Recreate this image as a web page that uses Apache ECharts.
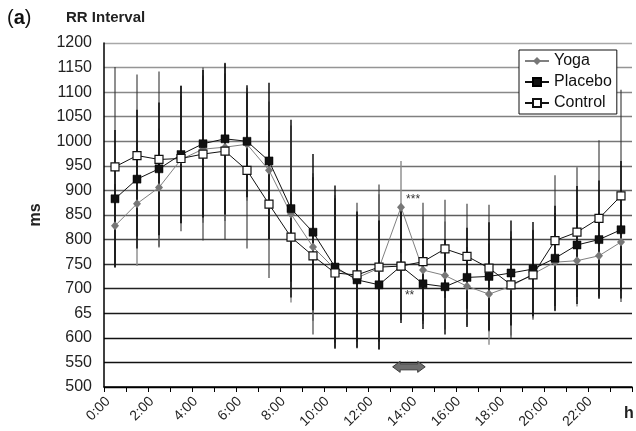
<!DOCTYPE html>
<html><head><meta charset="utf-8">
<script src="https://cdn.jsdelivr.net/npm/echarts@6/dist/echarts.min.js"></script>
<style>html,body{margin:0;padding:0;background:#fff}#c{width:636px;height:431px}</style>
</head><body><div id="c"></div>
<script>
// ---- data ----
const slots = [0.5,1.5,2.5,3.5,4.5,5.5,6.5,7.5,8.5,9.5,10.5,11.5,12.5,13.5,14.5,15.5,16.5,17.5,18.5,19.5,20.5,21.5,22.5,23.5];
const tickHours = [0,2,4,6,8,10,12,14,16,18,20,22];
const yTicks = [500,550,600,650,700,750,800,850,900,950,1000,1050,1100,1150,1200];
const yTickLabels = ['500','550','600','65','700','750','800','850','900','950','1000','1050','1100','1150','1200'];
const yoga    = [828,873,906,963,984,988,994,941,852,785,740,722,742,866,738,727,705,689,705,730,754,757,767,795];
const placebo = [883,923,944,973,995,1005,1000,960,863,815,744,718,708,746,710,704,723,725,732,740,762,789,800,820];
const control = [948,971,963,965,974,980,941,872,805,767,732,728,744,746,755,781,766,742,708,728,798,815,843,889];
const yogaSD    = [85,127,120,130,150,150,115,140,180,150,150,130,150,94,110,110,80,103,100,90,100,93,88,100];
const placeboSD = [140,141,135,140,150,154,114,159,181,159,166,139,131,116,92,97,101,110,107,96,107,120,120,140];
const controlSD = [203,165,179,148,176,180,159,150,91,160,152,147,168,110,120,100,107,129,109,91,133,132,159,216];
const annotations = [[14.05, 882, '***'], [13.89, 685, '**']];
const arrowSpan = [[13.12, 14.6, 541]];

const FONT = '"Liberation Sans", Arial, sans-serif';
const gridColors = ['#000','#111','#111','#1a1a1a','#222','#333','#4a4a4a','#5e5e5e','#666','#707070','#777','#808080','#888','#959595','#a8a8a8'];

function errSeries(name, means, sds, color, width, z) {
  return {
    type: 'custom', name: name + ' SD', xAxisIndex: 0, yAxisIndex: 0, z: z, silent: true,
    data: slots.map((x, i) => [x, means[i] - sds[i], means[i] + sds[i]]),
    encode: { x: 0, y: [1, 2] },
    renderItem(params, api) {
      const lo = api.coord([api.value(0), api.value(1)]);
      const hi = api.coord([api.value(0), api.value(2)]);
      return { type: 'line', shape: { x1: lo[0], y1: lo[1], x2: hi[0], y2: hi[1] },
               style: { stroke: color, lineWidth: width } };
    }
  };
}

const chart = echarts.init(document.getElementById('c'), null, { renderer: 'canvas' });
chart.setOption({
  animation: false,
  backgroundColor: '#fff',
  textStyle: { fontFamily: FONT },
  grid: [
    { left: 104, right: 4, top: 43, bottom: 44 },
    { left: 108, right: 0, top: 43, bottom: 44 }
  ],
  xAxis: [
    { type: 'value', gridIndex: 0, min: 0, max: 24, interval: 1,
      axisLine: { show: true, lineStyle: { color: '#000', width: 1.5 } },
      axisTick: { show: true, length: 5, lineStyle: { color: '#000', width: 1 } },
      axisLabel: { show: false }, splitLine: { show: false } },
    { type: 'value', gridIndex: 1, min: 0, max: 24, interval: 2,
      axisLine: { show: false }, axisTick: { show: false }, splitLine: { show: false },
      axisLabel: { show: true, rotate: 45, margin: 16, fontSize: 14, color: '#222', fontFamily: FONT,
        formatter: v => (tickHours.indexOf(v) >= 0 ? v + ':00' : '') } }
  ],
  yAxis: [
    { type: 'value', gridIndex: 0, min: 500, max: 1200, interval: 50,
      name: 'ms', nameLocation: 'middle', nameGap: 60, nameRotate: 90,
      nameTextStyle: { fontSize: 16, fontWeight: 'bold', color: '#222', fontFamily: FONT },
      axisLine: { show: true, lineStyle: { color: '#000', width: 1.5 } },
      axisTick: { show: false },
      axisLabel: { margin: 12, fontSize: 16, color: '#222', fontFamily: FONT,
        formatter: v => { const i = yTicks.indexOf(v); return i >= 0 ? yTickLabels[i] : ''; } },
      splitLine: { show: true, lineStyle: { color: gridColors, width: 1.3 } } },
    { type: 'value', gridIndex: 1, min: 500, max: 1200, show: false }
  ],
  legend: {
    data: ['Yoga', 'Placebo', 'Control'], orient: 'vertical', left: 519, top: 50,
    padding: [3, 5, 3, 5], itemGap: 5, itemWidth: 24, itemHeight: 10,
    backgroundColor: '#fff', borderColor: '#111', borderWidth: 1, borderRadius: 0,
    textStyle: { fontSize: 16, color: '#111', fontFamily: FONT }
  },
  graphic: [
    { type: 'text', left: 7, top: 8, style: { text: '{p|(}{b|a}{p|)}', rich: {
        p: { fontSize: 20, fontFamily: FONT, fill: '#111' },
        b: { fontSize: 20, fontWeight: 'bold', fontFamily: FONT, fill: '#111' } } } },
    { type: 'text', left: 66, top: 10, style: { text: 'RR Interval', fontSize: 15, fontWeight: 'bold', fontFamily: FONT, fill: '#222' } },
    { type: 'text', left: 624, top: 406, style: { text: 'h', fontSize: 16, fontWeight: 'bold', fontFamily: FONT, fill: '#222' } }
  ],
  series: [
    errSeries('Yoga', yoga, yogaSD, '#8a8a8a', 1.4, 1),
    errSeries('Control', control, controlSD, '#333', 1.1, 1),
    errSeries('Placebo', placebo, placeboSD, '#000', 1.4, 1),
    { type: 'custom', name: 'arrow', z: 3, silent: true, data: arrowSpan,
      renderItem(params, api) {
        const a = api.coord([api.value(0), api.value(2)]);
        const b = api.coord([api.value(1), api.value(2)]);
        const x1 = a[0], x2 = b[0], y = a[1], hl = 7.5, hh = 5.5, sh = 3;
        return { type: 'polygon', shape: { points: [
          [x1, y], [x1 + hl, y - hh], [x1 + hl, y - sh], [x2 - hl, y - sh], [x2 - hl, y - hh],
          [x2, y], [x2 - hl, y + hh], [x2 - hl, y + sh], [x1 + hl, y + sh], [x1 + hl, y + hh]] },
          style: { fill: '#6e6e6e', stroke: '#3a3a3a', lineWidth: 1 } };
      } },
    { type: 'custom', name: 'annot', z: 3, silent: true, data: annotations,
      renderItem(params, api) {
        const p = api.coord([api.value(0), api.value(1)]);
        return { type: 'text', x: p[0], y: p[1], style: { text: annotations[params.dataIndex][2],
          fontSize: 12, fontFamily: FONT, fill: '#333', align: 'center', verticalAlign: 'middle' } };
      } },
    { type: 'line', name: 'Yoga', z: 4, data: slots.map((x, i) => [x, yoga[i]]),
      symbol: 'diamond', symbolSize: [8, 9],
      lineStyle: { color: '#808080', width: 1 }, itemStyle: { color: '#777' } },
    { type: 'line', name: 'Placebo', z: 5, data: slots.map((x, i) => [x, placebo[i]]),
      symbol: 'rect', symbolSize: 8,
      lineStyle: { color: '#111', width: 1 }, itemStyle: { color: '#111', borderColor: '#000', borderWidth: 0.5 } },
    { type: 'line', name: 'Control', z: 6, data: slots.map((x, i) => [x, control[i]]),
      symbol: 'rect', symbolSize: 8,
      lineStyle: { color: '#111', width: 1 }, itemStyle: { color: '#fff', borderColor: '#111', borderWidth: 1.2 } }
  ]
});
</script></body></html>
